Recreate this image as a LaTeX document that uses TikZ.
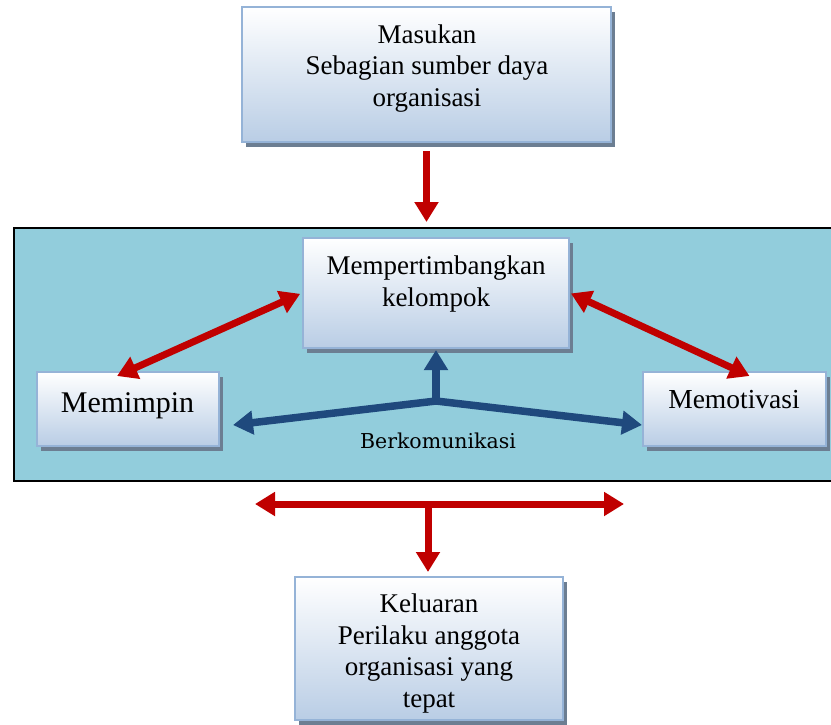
\documentclass[tikz,border=0pt]{standalone}
\usepackage{fontspec}
\setmainfont{Liberation Serif}
\newfontfamily\commfont{DejaVu Serif}
\usetikzlibrary{arrows.meta,shadows,calc}

\definecolor{arrowred}{HTML}{C00000}
\definecolor{commblue}{HTML}{1F497D}
\definecolor{poolteal}{HTML}{92CDDC}
\definecolor{boxedge}{HTML}{95B3D7}
\definecolor{boxbottom}{HTML}{B9CDE5}
\definecolor{shadowgray}{HTML}{6C7E92}

\begin{document}
\begin{tikzpicture}[x=1pt,y=-1pt,
  box/.style={draw=boxedge, line width=2pt, top color=white, bottom color=boxbottom,
    drop shadow={shadow xshift=3.5pt, shadow yshift=-4.5pt, fill=shadowgray, opacity=1},
    inner sep=0pt},
  txt/.style={font=\fontsize{27}{31.5}\selectfont, align=center, inner sep=0pt, anchor=base},
  redarrow/.style={draw=arrowred, line width=7pt, {Triangle[width=23pt,length=20pt]}-{Triangle[width=23pt,length=20pt]}},
  reddown/.style={draw=arrowred, line width=7pt, -{Triangle[width=23pt,length=20pt]}},
  bluearrow/.style={draw=commblue, line width=7.5pt, -{Triangle[width=23pt,length=20pt]}}]

\useasboundingbox (0,0) rectangle (831,724);
\clip (0,0) rectangle (831,724);

% central panel
\node[draw=black, line width=1.6pt, fill=poolteal, inner sep=0pt, anchor=north west,
  minimum width=830pt, minimum height=253pt] (panel) at (13,227) {};

% input box (text anchored at the baseline of its last line)
\node[box, minimum width=369pt, minimum height=135pt] (in) at (426.5,74.5) {};
\node[txt] (in-t) at (427,106) {Masukan\\Sebagian sumber daya\\organisasi};

% group consideration box
\node[box, minimum width=266pt, minimum height=110pt] (mp) at (436,293) {};
\node[txt, font=\fontsize{27}{32}\selectfont] (mp-t) at (436,306) {Mempertimbangkan\\kelompok};

% leading box
\node[box, minimum width=182pt, minimum height=74pt] (mm) at (128,409) {};
\node[txt, font=\fontsize{30}{34}\selectfont] (mm-t) at (127.5,412) {Memimpin};

% motivating box
\node[box, minimum width=183pt, minimum height=74pt] (mv) at (734.5,409) {};
\node[txt, font=\fontsize{27.5}{32}\selectfont] (mv-t) at (734,408) {Memotivasi};

% output box
\node[box, minimum width=268pt, minimum height=143pt] (out) at (429,648.5) {};
\node[txt] (out-t) at (429,707) {Keluaran\\Perilaku anggota\\organisasi yang\\tepat};

% communication label
\node[inner sep=0pt, anchor=base, font=\commfont\fontsize{20.5}{23}\selectfont] (comm) at (438,448) {Berkomunikasi};

% input flows into the panel
\draw[reddown, shorten <=8pt, shorten >=5pt] (in.south) -- (in.south |- panel.north);

% two-way links between the boxes
\draw[redarrow, shorten <=2pt] (mp.west) -- ([xshift=-11pt,yshift=-5pt]mm.north);
\draw[redarrow, shorten <=1pt] (mp.east) -- ([xshift=15pt,yshift=-5pt]mv.north);

% communication branches
\coordinate (junc) at (436,401);
\draw[bluearrow, shorten >=1pt] (junc) -- (junc |- mp.south);
\draw[bluearrow] (junc) -- ([xshift=13pt,yshift=-16pt]mm.east);
\draw[bluearrow] (junc) -- ([yshift=-16pt]mv.west);

% spread below the panel and the output
\coordinate (spreadL) at (255,504);
\coordinate (spreadR) at (624,504);
\coordinate (spreadM) at (428,504);
\draw[redarrow] (spreadL) -- (spreadR);
\draw[reddown, shorten >=4pt] (spreadM) -- (spreadM |- out.north);
\end{tikzpicture}
\end{document}
